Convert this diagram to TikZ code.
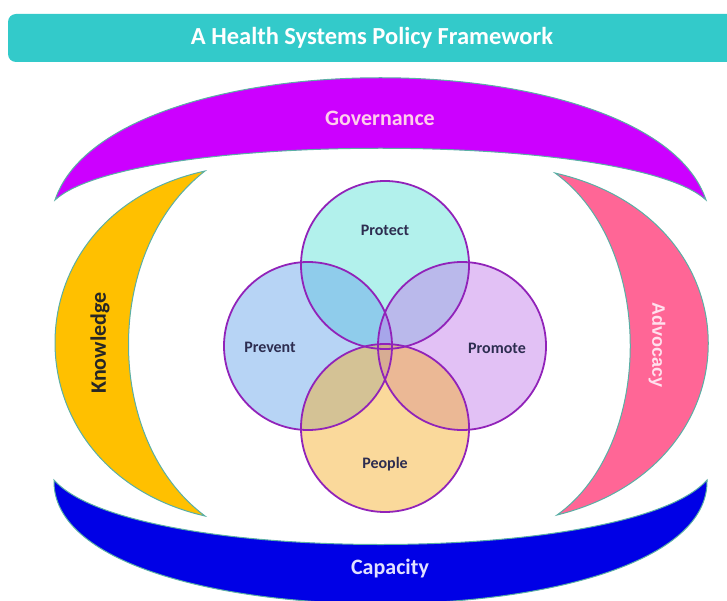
\documentclass[tikz,border=0pt]{standalone}
\usepackage{fontspec}
\setmainfont{Carlito}
\newfontfamily\arialfont{Liberation Sans}
\usetikzlibrary{positioning}
\usepackage{xcolor}

\definecolor{titleteal}{RGB}{51,202,202}
\definecolor{govpurple}{RGB}{204,0,255}
\definecolor{govtext}{RGB}{255,205,235}
\definecolor{knowgold}{RGB}{255,192,0}
\definecolor{advpink}{RGB}{255,102,150}
\definecolor{advtext}{RGB}{255,225,238}
\definecolor{capblue}{RGB}{0,0,230}
\definecolor{captext}{RGB}{225,225,255}
\definecolor{bandedge}{RGB}{90,175,165}
\definecolor{ringedge}{RGB}{145,35,185}
\definecolor{lbltext}{RGB}{45,45,80}
\definecolor{protectc}{RGB}{95,225,215}
\definecolor{preventc}{RGB}{105,165,235}
\definecolor{promotec}{RGB}{195,125,235}
\definecolor{peoplec}{RGB}{245,175,45}

\begin{document}
\begin{tikzpicture}[x=1pt,y=-1pt,
    band/.style={draw=bandedge,line width=1pt},
    ring/.style={circle,minimum size=168pt,inner sep=0pt,fill opacity=0.48},
    ringline/.style={draw=ringedge,line width=1.8pt},
    lbl/.style={font=\bfseries\fontsize{16}{18}\selectfont,text=lbltext},
    biglbl/.style={font=\bfseries\fontsize{22}{24}\selectfont}]
	\useasboundingbox (0,0) rectangle (727,601);
	\clip (0,0) rectangle (727,601);

	% title bar
	\node[fill=titleteal,rounded corners=8pt,minimum width=728pt,minimum height=48pt,
	      font=\bfseries\fontsize{24.5}{26}\selectfont,text=white] (title) at (372,38) {A Health Systems Policy Framework};

	% outer bands
	\draw[band,fill=govpurple] (55,200) .. controls (110,37) and (651,37) .. (706,200)
		.. controls (631,131) and (130,131) .. (55,200) -- cycle;
	\node[biglbl,text=govtext] (gov) at (380,118) {Governance};

	\draw[band,fill=capblue] (54,480) .. controls (50,645) and (711,645) .. (707,480)
		.. controls (631,566) and (130,566) .. (54,480) -- cycle;
	\node[biglbl,text=captext] (cap) at (390,569) {Capacity};

	\draw[band,fill=knowgold] (205,171) .. controls (5,215) and (5,470) .. (205,516)
		.. controls (103,440) and (103,250) .. (205,171) -- cycle;
	\node[biglbl,text=black!85,rotate=90] (know) at (100,343) {Knowledge};

	\draw[band,fill=advpink] (555,173) .. controls (759,220) and (759,465) .. (557,515)
		.. controls (655,445) and (655,245) .. (555,173) -- cycle;
	\node[font=\arialfont\bfseries\fontsize{18}{20}\selectfont,text=advtext,rotate=-90] (adv) at (657,345) {Advocacy};

	% the four circles
	\node[ring,fill=protectc] (protect) at (385,265) {};
	\node[ring,fill=preventc] (prevent) at (308,346) {};
	\node[ring,fill=promotec] (promote) at (462,346) {};
	\node[ring,fill=peoplec] (people) at (385,428) {};
	\foreach \c in {protect,prevent,promote,people}
		\draw[ringline] (\c.center) circle[radius=84];

	\node[lbl] (protectlbl) at (385,230) {Protect};
	\node[lbl] (preventlbl) at (270,347) {Prevent};
	\node[lbl] (promotelbl) at (497,348) {Promote};
	\node[lbl] (peoplelbl) at (385,464) {People};
\end{tikzpicture}
\end{document}
